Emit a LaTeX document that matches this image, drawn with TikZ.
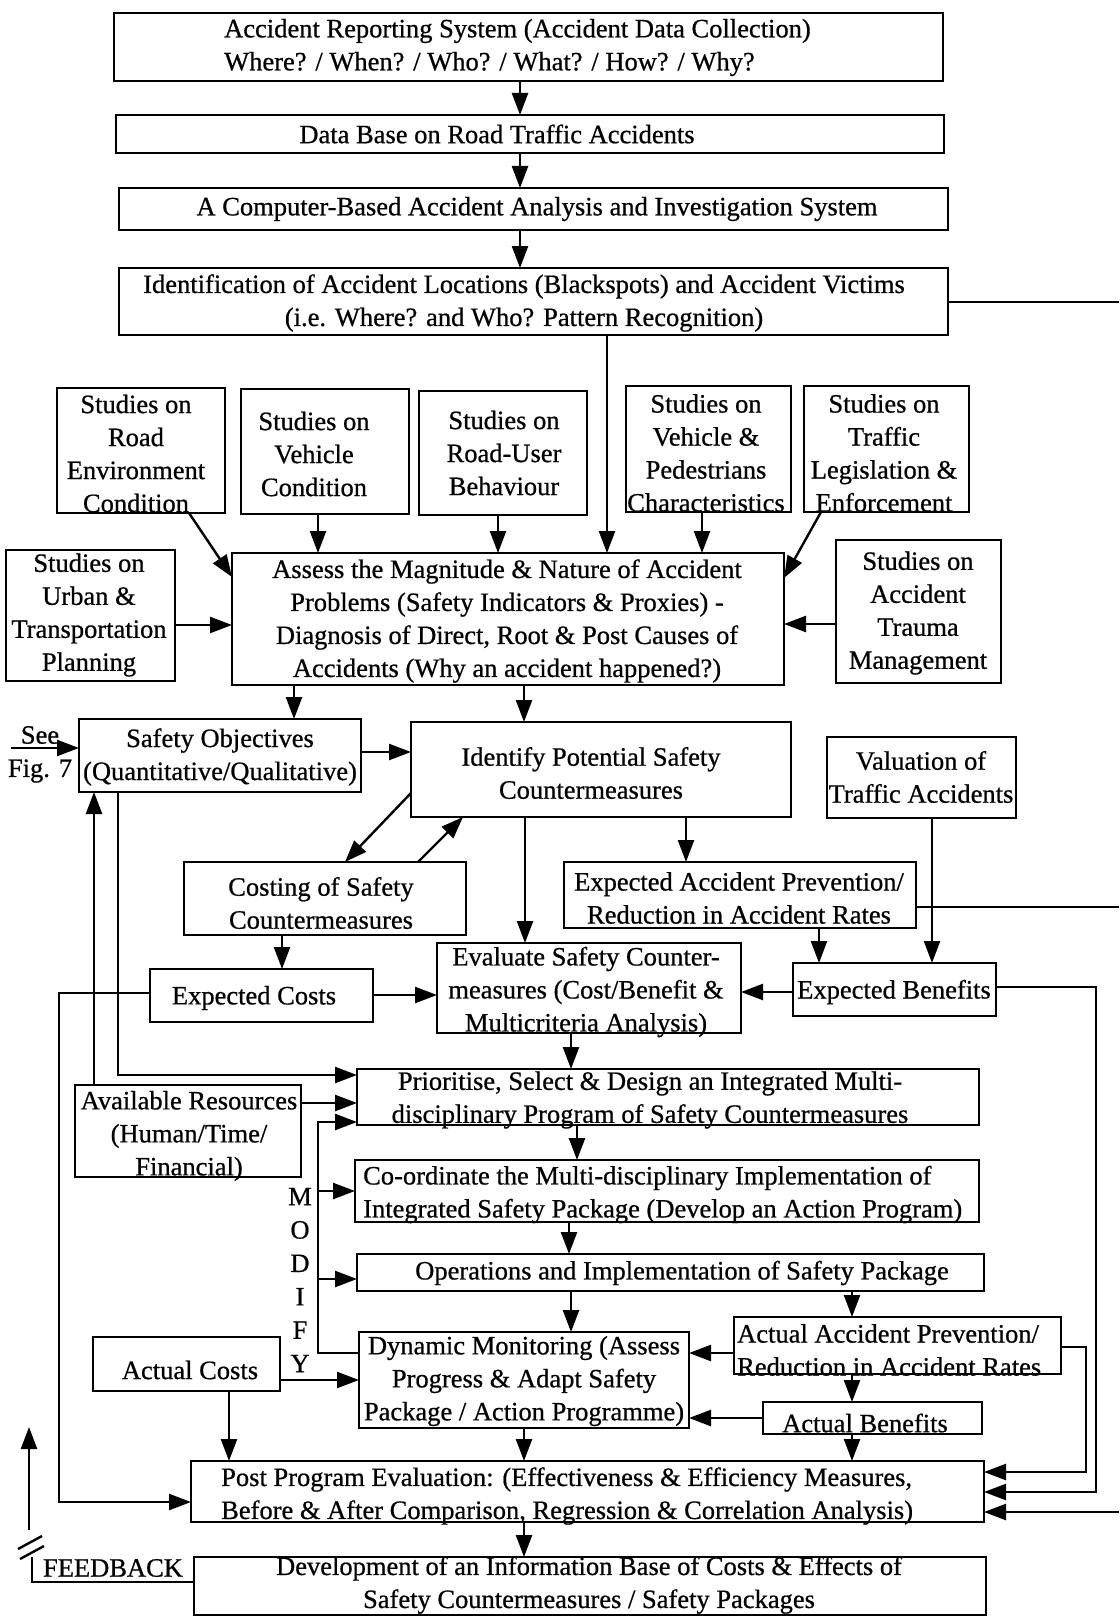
\documentclass[tikz,border=0pt]{standalone}
\usepackage{fontspec}
\setmainfont{Liberation Serif}[FakeBold=0.7]
\usetikzlibrary{arrows.meta}
\tikzset{
  box/.style={draw, line width=2.8pt, inner sep=0pt, outer sep=0pt},
  txt/.style={font=\fontsize{26.5}{33}\selectfont, align=center, inner sep=0pt},
  ltxt/.style={txt, align=left, anchor=west},
  link/.style={line width=2.4pt},
  arr/.style={link, -{Triangle[length=22pt,width=16pt]}},
}
% \boxat{name}{left}{top}{right}{bottom}
\newcommand{\boxat}[5]{%
  \node[box, minimum width={(#4-#2)*1pt}, minimum height={(#5-#3)*1pt}]
    (#1) at ({(#2+#4)/2},{(#3+#5)/2}) {};}
\begin{document}
\begin{tikzpicture}[x=1pt,y=-1pt]
\useasboundingbox (0,0) rectangle (1119,1616);
\fill[white] (0,0) rectangle (1119,1616);

% ---- boxes ----
\boxat{rep}{114}{13}{943}{81}
\boxat{db}{116}{115}{944}{153}
\boxat{cab}{119}{188}{948}{230}
\boxat{ident}{119}{268}{948}{335}
\boxat{sRoad}{57}{388}{225}{513}
\boxat{sVeh}{241}{389}{409}{514}
\boxat{sUser}{419}{391}{587}{515}
\boxat{sPed}{626}{386}{791}{512}
\boxat{sLeg}{804}{386}{969}{512}
\boxat{sUrban}{6}{550}{175}{681}
\boxat{assess}{232}{553}{784}{685}
\boxat{sTrauma}{836}{540}{1001}{683}
\boxat{obj}{79}{719}{361}{792}
\boxat{cm}{411}{722}{791}{817}
\boxat{val}{827}{737}{1016}{818}
\boxat{cost}{184}{862}{466}{935}
\boxat{expPrev}{564}{862}{916}{928}
\boxat{expCost}{150}{969}{373}{1022}
\boxat{eval}{437}{943}{741}{1033}
\boxat{expBen}{793}{963}{996}{1016}
\boxat{prio}{357}{1069}{979}{1125}
\boxat{res}{75}{1085}{301}{1177}
\boxat{coord}{355}{1160}{979}{1222}
\boxat{ops}{357}{1254}{984}{1291}
\boxat{dyn}{359}{1332}{689}{1428}
\boxat{actPrev}{734}{1317}{1061}{1374}
\boxat{actCost}{93}{1337}{280}{1391}
\boxat{actBen}{763}{1402}{982}{1434}
\boxat{post}{191}{1461}{984}{1522}
\boxat{dev}{194}{1557}{986}{1615}

% ---- texts ----
\node[ltxt] (repT) at (224,47.5) {Accident Reporting System (Accident Data Collection)\\Where? / When? / Who? / What? / How? / Why?};
\node[txt] (dbT) at (497,134) {Data Base on Road Traffic Accidents};
\node[txt] (cabT) at (537,209) {A Computer-Based Accident Analysis and Investigation System};
\node[txt] (identT) at (524,303) {Identification of Accident Locations (Blackspots) and Accident Victims\\(i.e. Where? and Who? Pattern Recognition)};
\node[txt] (sRoadT) at (136,453.5) {Studies on\\Road\\Environment\\Condition};
\node[txt] (sVehT) at (314,454) {Studies on\\Vehicle\\Condition};
\node[txt] (sUserT) at (504,453) {Studies on\\Road-User\\Behaviour};
\node[txt] (sPedT) at (706,453) {Studies on\\Vehicle \&\\Pedestrians\\Characteristics};
\node[txt] (sLegT) at (884,453) {Studies on\\Traffic\\Legislation \&\\Enforcement};
\node[txt] (sUrbanT) at (89,615) {Studies on\\Urban \&\\Transportation\\Planning};
\node[txt] (assessT) at (507,621) {Assess the Magnitude \& Nature of Accident\\Problems (Safety Indicators \& Proxies) -\\Diagnosis of Direct, Root \& Post Causes of\\Accidents (Why an accident happened?)};
\node[txt] (sTraumaT) at (918,613) {Studies on\\Accident\\Trauma\\Management};
\node[txt] (objT) at (220,757) {Safety Objectives\\(Quantitative/Qualitative)};
\node[txt] (cmT) at (591,773) {Identify Potential Safety\\Countermeasures};
\node[txt] (valT) at (921,777) {Valuation of\\Traffic Accidents};
\node[txt] (costT) at (321,903) {Costing of Safety\\Countermeasures};
\node[txt] (expPrevT) at (739,898) {Expected Accident Prevention/\\Reduction in Accident Rates};
\node[txt] (expCostT) at (254,998) {Expected Costs};
\node[txt] (evalT) at (586,992) {Evaluate Safety Counter-\\measures (Cost/Benefit \&\\Multicriteria Analysis)};
\node[txt] (expBenT) at (894,992) {Expected Benefits};
\node[txt] (prioT) at (650,1100) {Prioritise, Select \& Design an Integrated Multi-\\disciplinary Program of Safety Countermeasures};
\node[txt] (resT) at (189,1136) {Available Resources\\(Human/Time/\\Financial)};
\node[ltxt] (coordT) at (363,1194.5) {Co-ordinate the Multi-disciplinary Implementation of\\Integrated Safety Package (Develop an Action Program)};
\node[txt] (opsT) at (682,1273) {Operations and Implementation of Safety Package};
\node[txt] (dynT) at (524,1381) {Dynamic Monitoring (Assess\\Progress \& Adapt Safety\\Package / Action Programme)};
\node[ltxt] (actPrevT) at (737,1350) {Actual Accident Prevention/\\Reduction in Accident Rates};
\node[txt] (actCostT) at (190,1370) {Actual Costs};
\node[txt] (actBenT) at (865,1423) {Actual Benefits};
\node[ltxt] (postT) at (221,1496) {Post Program Evaluation: (Effectiveness \& Efficiency Measures,\\Before \& After Comparison, Regression \& Correlation Analysis)};
\node[txt] (devT) at (589,1585) {Development of an Information Base of Costs \& Effects of\\Safety Countermeasures / Safety Packages};
\node[txt] (fbT) at (113,1568) {FEEDBACK};
\node[txt] (seeT) at (40,735) {See};
\node[txt] (figT) at (40,771) {Fig. 7};
\node[txt, font=\fontsize{26.5}{33.4}\selectfont] (modT) at (300,1280) {M\\O\\D\\I\\F\\Y};

% ---- upper chain ----
\draw[arr] (rep.south -| 520,0) -- (db.north -| 520,0);
\draw[arr] (db.south -| 520,0) -- (cab.north -| 520,0);
\draw[arr] (cab.south -| 520,0) -- (ident.north -| 520,0);
\coordinate (edgeA) at (1119,302);
\draw[link] (ident.east |- 0,302) -- (edgeA);
\draw[arr] (ident.south -| 607,0) -- (assess.north -| 607,0);

% ---- studies into the assessment ----
\draw[arr] (sRoad.south -| 189,0) -- (assess.west |- 0,577);
\draw[arr] (sVeh.south -| 318,0) -- (assess.north -| 318,0);
\draw[arr] (sUser.south -| 498,0) -- (assess.north -| 498,0);
\draw[arr] (sPed.south -| 702,0) -- (assess.north -| 702,0);
\draw[arr] (sLeg.south -| 821,0) -- (assess.east |- 0,578);
\draw[arr] (sUrban.east |- 0,625) -- (assess.west |- 0,625);
\draw[arr] (sTrauma.west |- 0,624) -- (assess.east |- 0,624);
\draw[arr] (assess.south -| 294,0) -- (obj.north -| 294,0);
\draw[arr] (assess.south -| 524,0) -- (cm.north -| 524,0);

% ---- objectives, countermeasures, evaluation ----
\coordinate (fig7) at (11,748);
\draw[arr] (fig7) -- (obj.west |- 0,748);
\draw[arr] (obj.east |- 0,752) -- (cm.west |- 0,752);
\draw[arr] (cm.west |- 0,793) -- (cost.north -| 345,0);
\draw[arr] (cost.north -| 418,0) -- (cm.south -| 463,0);
\draw[arr] (cm.south -| 525,0) -- (eval.north -| 525,0);
\draw[arr] (cm.south -| 686,0) -- (expPrev.north -| 686,0);
\draw[arr] (val.south -| 932,0) -- (expBen.north -| 932,0);
\draw[arr] (expPrev.south -| 819,0) -- (expBen.north -| 819,0);
\coordinate (edgeB) at (1119,907);
\draw[link] (expPrev.east |- 0,907) -- (edgeB);
\draw[arr] (cost.south -| 282,0) -- (expCost.north -| 282,0);
\draw[arr] (expCost.east |- 0,995) -- (eval.west |- 0,995);
\draw[arr] (expBen.west |- 0,992) -- (eval.east |- 0,992);
\draw[arr] (expBen.east |- 0,987) -- (1096,987) -- (1096,1492) -- (post.east |- 0,1492);
\draw[arr] (eval.south -| 571,0) -- (prio.north -| 571,0);
\draw[arr] (expCost.west |- 0,993) -- (59,993) -- (59,1502) -- (post.west |- 0,1502);
\draw[arr] (obj.south -| 118,0) -- (118,1075) -- (prio.west |- 0,1075);
\draw[arr] (res.north -| 94,0) -- (obj.south -| 94,0);
\draw[arr] (res.east |- 0,1103) -- (prio.west |- 0,1103);

% ---- modify loop ----
\draw[arr] (dyn.west |- 0,1353) -- (318,1353) -- (318,1122) -- (prio.west |- 0,1122);
\coordinate (modA) at (318,1191);
\coordinate (modB) at (318,1279);
\draw[arr] (modA) -- (coord.west |- 0,1191);
\draw[arr] (modB) -- (ops.west |- 0,1279);

% ---- implementation and monitoring ----
\draw[arr] (prio.south -| 577,0) -- (coord.north -| 577,0);
\draw[arr] (coord.south -| 569,0) -- (ops.north -| 569,0);
\draw[arr] (ops.south -| 571,0) -- (dyn.north -| 571,0);
\draw[arr] (ops.south -| 852,0) -- (actPrev.north -| 852,0);
\draw[arr] (actPrev.west |- 0,1353) -- (dyn.east |- 0,1353);
\draw[arr] (actPrev.south -| 852,0) -- (actBen.north -| 852,0);
\draw[arr] (actBen.west |- 0,1418) -- (dyn.east |- 0,1418);
\draw[arr] (actCost.east |- 0,1380) -- (dyn.west |- 0,1380);
\draw[arr] (actCost.south -| 229,0) -- (post.north -| 229,0);
\draw[arr] (dyn.south -| 524,0) -- (post.north -| 524,0);
\draw[arr] (actBen.south -| 852,0) -- (post.north -| 852,0);
\draw[arr] (actPrev.east |- 0,1347) -- (1086,1347) -- (1086,1472) -- (post.east |- 0,1472);
\coordinate (edgeC) at (1119,1512);
\draw[arr] (edgeC) -- (post.east |- 0,1512);
\draw[arr] (post.south -| 524,0) -- (dev.north -| 524,0);

% ---- feedback ----
\draw[link] (dev.west |- 0,1582) -- (32,1582) -- (32,1557);
\coordinate (fbA) at (29,1530);
\coordinate (fbB) at (29,1427);
\draw[arr] (fbA) -- (fbB);
\draw[link] (18,1549) -- (42,1536);
\draw[link] (20,1559) -- (44,1546);
\end{tikzpicture}
\end{document}
